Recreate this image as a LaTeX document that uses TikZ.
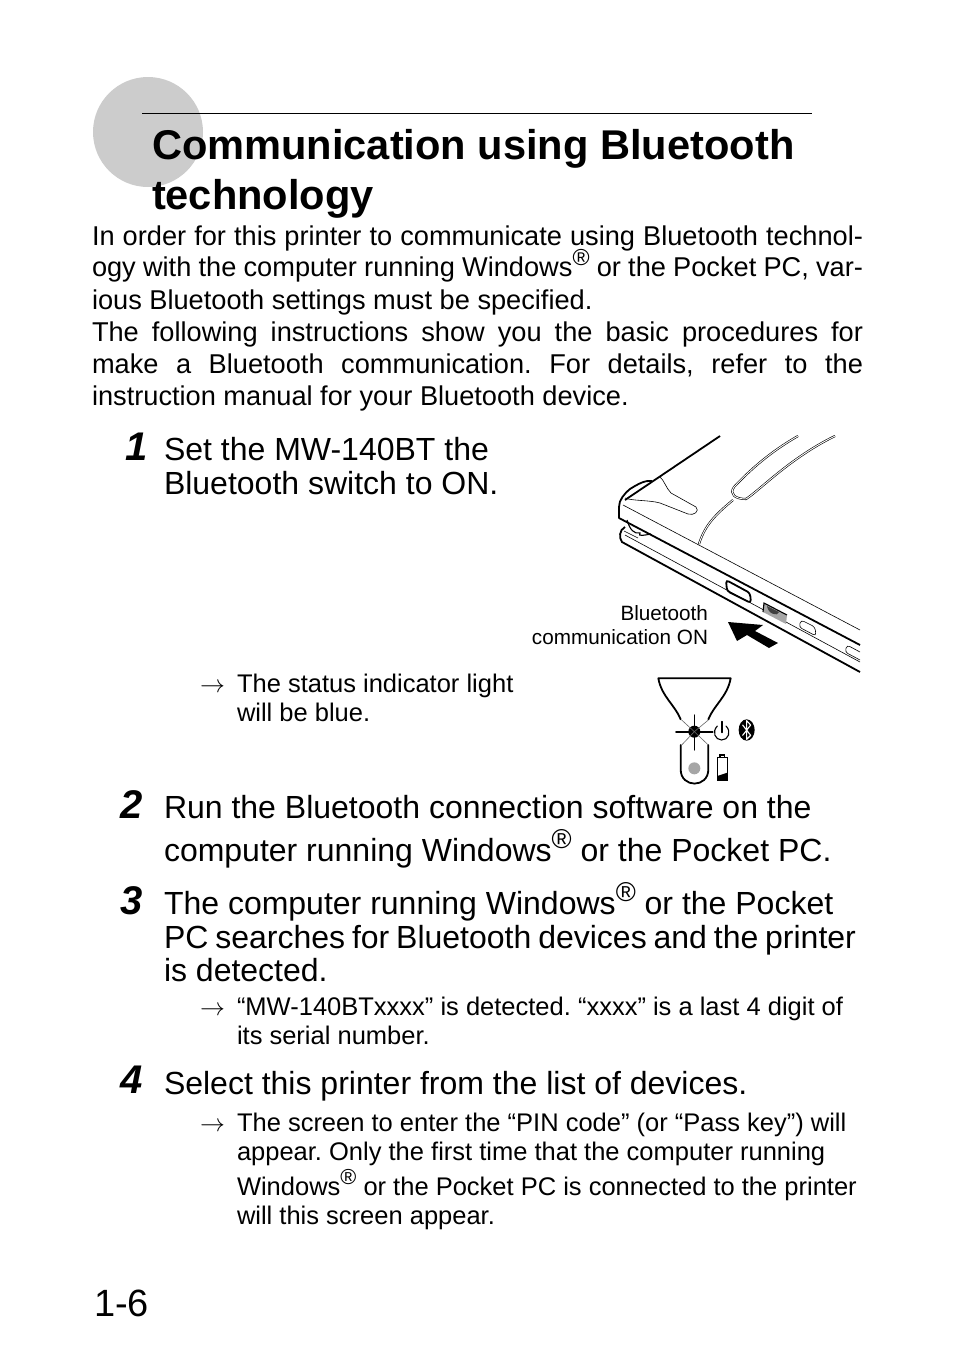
\documentclass[tikz,border=0pt]{standalone}
\usepackage{fontspec}
\setmainfont{Liberation Sans}
\frenchspacing
\newcommand{\fs}[1]{\fontsize{#1}{#1}\selectfont}
\newcommand{\winr}{Windows\raisebox{.4em}{\scalebox{.85}{®}}}
\begin{document}
\begin{tikzpicture}[x=1pt,y=-1pt,
    txt/.style={inner sep=0pt,outer sep=0pt,anchor=base west},
    titletext/.style={txt,font=\bfseries\fs{41.6}},
    bodytext/.style={txt,font=\fs{27.2}},
    steptext/.style={txt,font=\fs{32}},
    subtext/.style={txt,font=\fs{25.5}},
    stepnum/.style={txt,font=\bfseries\itshape\fs{40}},
    labeltext/.style={txt,anchor=base east,font=\fs{20.7}},
    fineline/.style={line width=.6pt},
    midline/.style={line width=1.1pt},
    heavyline/.style={line width=1.8pt},
    strip/.style={double=white,double distance=.9pt,line width=.6pt}]
    \useasboundingbox (0,0) rectangle (954,1345);%

    %% header
    \fill[black!20] (148,132) circle (55);%
    \draw[line width=.8pt] (142,113) -- (812,113);%
    \node[titletext] (title1) at (152,159) {Communication using Bluetooth};%
    \node[titletext] (title2) at (152,209) {technology};%

    %% intro, full lines are stretched to the measure
    \foreach \n/\y/\t in {1/245/{In order for this printer to communicate using Bluetooth technol-},
      2/276/{ogy with the computer running \winr{} or the Pocket PC, var-},
      4/341/{The following instructions show you the basic procedures for},
      5/373/{make a Bluetooth communication. For details, refer to the}}
      \node[bodytext] (intro\n) at (92,\y) {\hbox to 771pt{\t}};%
    \node[bodytext] (intro3) at (92,309) {ious Bluetooth settings must be specified.};%
    \node[bodytext] (intro6) at (92,405) {instruction manual for your Bluetooth device.};%

    %% step numbers
    \foreach \n/\x/\y in {1/125/460,2/120/818,3/120/914,4/120/1093}
      \node[stepnum] (num\n) at (\x,\y) {\n};%

    %% step texts
    \foreach \n/\y/\t in {a/460/{Set the MW-140BT the},
      b/494/{Bluetooth switch to ON.},
      c/818/{Run the Bluetooth connection software on the},
      d/861/{computer running \winr{} or the Pocket PC.},
      e/914/{The computer running \winr{} or the Pocket},
      f/948/{\hbox to 692pt{PC searches for Bluetooth devices and the printer}},
      g/981/{is detected.},
      h/1094/{Select this printer from the list of devices.}}
      \node[steptext] (step\n) at (164,\y) {\t};%

    %% notes
    \foreach \n/\y/\t in {a/692/{The status indicator light},
      b/721/{will be blue.},
      c/1015/{“MW-140BTxxxx” is detected. “xxxx” is a last 4 digit of},
      d/1044/{its serial number.},
      e/1131/{The screen to enter the “PIN code” (or “Pass key”) will},
      f/1160/{appear. Only the first time that the computer running},
      g/1195/{\winr{} or the Pocket PC is connected to the printer},
      h/1224/{will this screen appear.}}
      \node[subtext] (note\n) at (237,\y) {\t};%
    \foreach \n/\y in {a/692,c/1015,e/1131}
      \node[subtext] (arrow\n) at (200,\y) {$\rightarrow$};%

    \node[txt,font=\fs{38}] (page) at (94,1316) {1-6};%

    %% printer, lines in px
    \node[labeltext] (label1) at (708,620) {Bluetooth};%
    \node[labeltext] (label2) at (708,644) {communication ON};%
    \draw[heavyline] (720,436) -- (625,500);%
    \draw[heavyline,line join=round] (652,481) .. controls (645,480) and (638,484) .. (630,489)
      .. controls (624,494) and (619,500) .. (619,507) -- (619,518) -- (860,645);%
    \draw[fineline] (623,505) -- (860,630);%
    \draw[fineline] (625,535) -- (860,662);%
    \draw[heavyline] (625,527) .. controls (619,530) and (619,538) .. (622,542) -- (860,672);%
    \draw[fineline] (625,498) .. controls (632,501) and (650,500) .. (660,503)
      -- (688,514) .. controls (694,516) and (700,511) .. (696,507)
      -- (671,493) .. controls (666,488) and (664,480) .. (660,477);%
    \draw[midline] (627,520) .. controls (630,530) and (634,534) .. (640,533)
      .. controls (637,537) and (645,535) .. (651,534);%
    \draw[fineline] (624,531) -- (638,538);%
    \draw[strip] (798,436) .. controls (770,452) and (750,470) .. (734,487)
      .. controls (729,494) and (735,499) .. (746,499)
      .. controls (760,490) and (790,458) .. (835,436);%
    \draw[strip] (733,500) .. controls (715,515) and (705,525) .. (699,544);%
    %% switch and openings, rounded corners
    \draw[heavyline,rounded corners=3pt] (726,580) -- (750,593) -- (751,603) -- (727,591) -- cycle;%
    \draw[fineline] (734,584) -- (748,592);%
    \fill[black!35] (764,603) -- (787,615) -- (786,624) -- (763,612) -- cycle;%
    \draw[midline] (763,612) -- (764,603) -- (787,615);%
    \fill[black!75] (767,606) -- (779,612) .. controls (778,617) and (768,614) .. (767,606);%
    \draw[fineline,rounded corners=3pt] (801,620) -- (815,627) -- (816,636) -- (799,627) -- cycle;%
    \draw[fineline,rounded corners=3pt] (860,652) -- (847,645) -- (845,652) -- (860,660);%
    \fill (728,622) -- (763,625) -- (755,631) -- (778,643) -- (769,648) -- (747,635) -- (737,641) -- cycle;%

    %% indicator, lines in px
    \begin{scope}[shift={(640,670)},scale=1/3,line cap=round]
      \draw[heavyline,line join=round] (122,148) .. controls (105,105) and (65,80) .. (55,25) -- (272,25)
        .. controls (262,80) and (222,105) .. (205,148);%
      \draw[heavyline] (122,225) -- (122,298) .. controls (122,355) and (205,355) .. (205,298) -- (205,225);%
      \fill (163,185) circle (18);%
      \fill[black!35] (163,295) circle (18);%
      \foreach \b in {135,240} \draw[midline] (163,\b) -- (163,185);%
      \foreach \a in {108,218} \draw[heavyline] (\a,185) -- (163,185);%
      \foreach \a/\b in {125/150,205/150,125/225,205/225} \draw[fineline,black!60] (\a,\b) -- (163,185);%
      \draw[heavyline] (245,155) -- (245,187);%
      \draw[midline] (258,168) .. controls (275,185) and (265,210) .. (245,210)
        .. controls (225,210) and (215,185) .. (232,168);%
      \fill (320,180) ellipse (24 and 32);%
      \draw[white,midline,line join=round] (308,165) -- (332,196) -- (320,208) -- (320,152) -- (332,165) -- (308,196);%
      \draw[midline] (232,332) rectangle (262,262);%
      \draw[midline] (240,262) -- (240,255) -- (254,255) -- (254,262);%
      \fill (232,318) -- (262,308) -- (262,332) -- (232,332) -- cycle;%
    \end{scope}
\end{tikzpicture}
\end{document}
